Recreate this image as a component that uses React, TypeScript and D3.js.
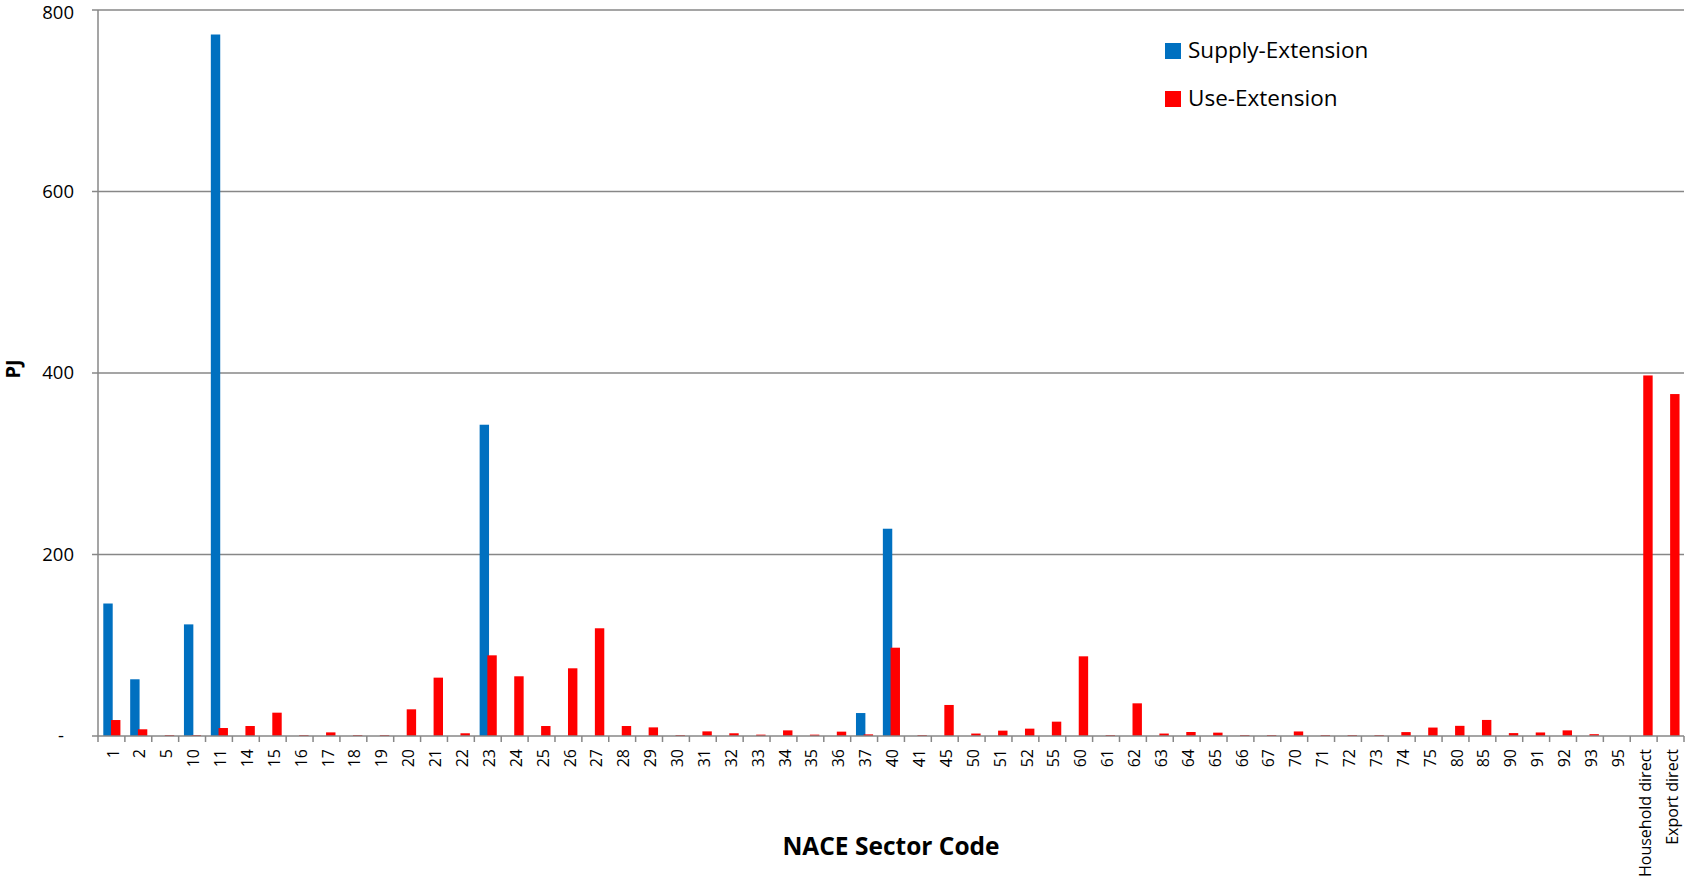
import * as d3 from 'd3'

const categories = [
  '1', '2', '5', '10', '11', '14', '15', '16', '17', '18', '19', '20', '21', '22', '23', '24', '25', '26', '27', '28',
  '29', '30', '31', '32', '33', '34', '35', '36', '37', '40', '41', '45', '50', '51', '52', '55', '60', '61', '62', '63',
  '64', '65', '66', '67', '70', '71', '72', '73', '74', '75', '80', '85', '90', '91', '92', '93', '95',
  'Household direct', 'Export direct',
]

const supplyExt = [
  146, 62.5, 0, 123, 773, 0, 0, 0, 0, 0, 0, 0, 0, 0, 343, 0, 0, 0, 0, 0,
  0, 0, 0, 0, 0, 0, 0, 0, 25.3, 228.4, 0, 0, 0, 0, 0, 0, 0, 0, 0, 0,
  0, 0, 0, 0, 0, 0, 0, 0, 0, 0, 0, 0, 0, 0, 0, 0, 0,
  0, 0,
]

const useExt = [
  17.6, 7.4, 1, 1, 8.8, 11, 25.7, 1, 4, 1, 1, 29.4, 64.3, 3, 88.9, 65.8, 11, 74.6, 118.7, 11,
  9.5, 1, 5.1, 3, 1.5, 6.2, 1.5, 4.8, 1.8, 97.3, 1, 34.2, 2.7, 5.9, 8.1, 15.8, 87.8, 1, 36, 2.7,
  4.4, 3.7, 1, 1, 5, 1, 1, 1, 4.3, 9.3, 11.2, 17.7, 3.2, 3.9, 6.2, 2, 0,
  397.3, 376.8,
]

const yTicks = [0, 200, 400, 600, 800]
const legendItems = [
  { label: 'Supply-Extension', color: '#0070C0' },
  { label: 'Use-Extension', color: '#FF0000' },
]

const W = 1685
const H = 879
const font = '"Open Sans", sans-serif'
const gridColor = '#878787'

export default function App() {
  const left = 98
  const right = 1684
  const top = 10
  const bottom = 736

  const x = d3.scaleBand<string>().domain(categories).range([left, right]).padding(0)
  const y = d3.scaleLinear().domain([0, 800]).range([bottom, top])
  const bw = x.bandwidth()
  const barW = bw * 0.35
  const fmt = (v: number) => (v === 0 ? '-' : d3.format('d')(v))

  return (
    <svg
      width={W}
      height={H}
      style={{ position: 'absolute', left: 0, top: 0, background: '#fff' }}
      fontFamily={font}
    >
      {/* gridlines + y labels */}
      {yTicks.map(t => (
        <g key={t}>
          {t > 0 && (
            <line x1={left - 6} x2={right} y1={y(t)} y2={y(t)} stroke={gridColor} strokeWidth={1.5} />
          )}
          <text
            x={t === 0 ? left - 34 : left - 24}
            y={y(t) + (t === 800 ? 2.5 : 0)}
            dy="0.33em"
            textAnchor="end"
            fontSize={18.5}
            fill="#000"
          >
            {fmt(t)}
          </text>
        </g>
      ))}

      {/* bars */}
      {categories.map((c, i) => (
        <g key={c}>
          {supplyExt[i] > 0 && (
            <rect
              x={(x(c) ?? 0) + bw * 0.197}
              y={y(supplyExt[i])}
              width={barW}
              height={bottom - y(supplyExt[i])}
              fill="#0070C0"
            />
          )}
          {useExt[i] > 0 && (
            <rect
              x={(x(c) ?? 0) + bw * 0.484}
              y={y(useExt[i])}
              width={barW}
              height={bottom - y(useExt[i])}
              fill="#FF0000"
            />
          )}
        </g>
      ))}

      {/* axes */}
      <line x1={left} x2={left} y1={top} y2={bottom} stroke={gridColor} strokeWidth={1.5} />
      <line x1={left - 6} x2={right} y1={bottom} y2={bottom} stroke={gridColor} strokeWidth={1.5} />
      {categories.map(c => (
        <line
          key={'t' + c}
          x1={x(c) ?? 0}
          x2={x(c) ?? 0}
          y1={bottom}
          y2={bottom + 6}
          stroke={gridColor}
          strokeWidth={1.5}
        />
      ))}
      <line x1={right} x2={right} y1={bottom} y2={bottom + 6} stroke={gridColor} strokeWidth={1.5} />

      {/* x labels */}
      {categories.map(c => (
        <text
          key={'l' + c}
          transform={`translate(${(x(c) ?? 0) + bw / 2 + 1.5},749) rotate(-90)`}
          textAnchor="end"
          dy="0.35em"
          fontSize={16}
          fill="#000"
        >
          {c}
        </text>
      ))}

      {/* axis titles */}
      <text x={891} y={855} textAnchor="middle" fontSize={24.5} fontWeight="bold" fill="#000">
        NACE Sector Code
      </text>
      <text
        transform={`translate(13,369) rotate(-90)`}
        textAnchor="middle"
        dy="0.35em"
        fontSize={20}
        fontWeight="bold"
        fill="#000"
      >
        PJ
      </text>

      {/* legend */}
      {legendItems.map((d, i) => (
        <g key={d.label} transform={`translate(1165,${43 + i * 48})`}>
          <rect width={16} height={16} fill={d.color} />
          <text x={23} y={15} fontSize={22.5} fill="#000">
            {d.label}
          </text>
        </g>
      ))}
    </svg>
  )
}
